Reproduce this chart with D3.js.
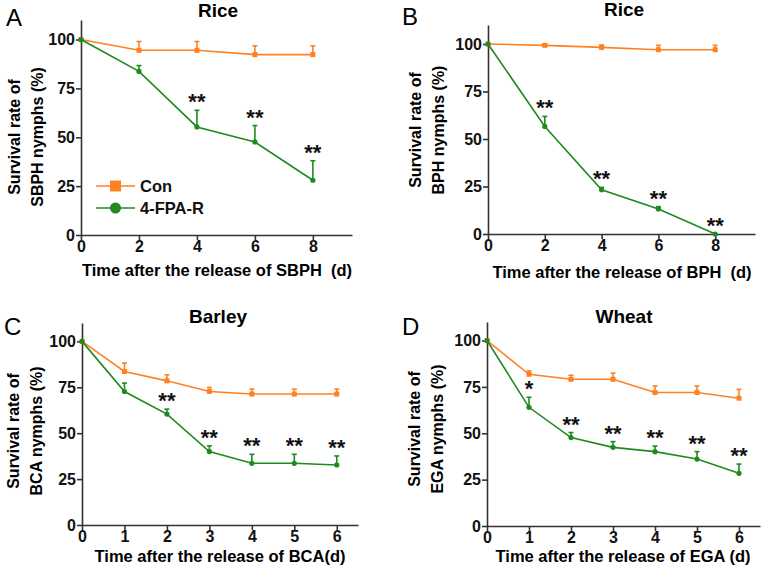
<!DOCTYPE html>
<html>
<head>
<meta charset="utf-8">
<script src="https://d3js.org/d3.v7.min.js"></script>
<style>
  body { margin: 0; background: white; }
  svg text { font-family: "Liberation Sans", Arial, sans-serif; }
</style>
</head>
<body>
<svg width="762" height="567"></svg>
<script>
// days
const daysAB = [0, 2, 4, 6, 8];
const daysCD = [0, 1, 2, 3, 4, 5, 6];
const yTicks = [0, 25, 50, 75, 100];

// A: rice, SBPH
const conA = [100, 94.5, 94.5, 92.3, 92.3];
const conA_sd = [0, 4.5, 4.5, 4.5, 4.5];
const fpaA = [100, 83.7, 55.3, 47.6, 28];
const fpaA_sd = [0, 3, 8.5, 8.4, 10];
const sigA = ["", "", "**", "**", "**"];

// B: rice, BPH
const conB = [100, 99.3, 98.2, 97, 97];
const conB_sd = [0, 0.6, 1.3, 2.3, 2.3];
const fpaB = [100, 56.6, 23.3, 13.2, 0];
const fpaB_sd = [0, 5.3, 1.2, 1.2, 0];
const sigB = ["", "**", "**", "**", "**"];

// C: barley, BCA
const conC = [100, 83.6, 78.5, 72.7, 71.3, 71.3, 71.3];
const conC_sd = [0, 4.6, 3.3, 2.2, 2.7, 2.7, 2.7];
const fpaC = [100, 72.7, 60.4, 40, 33.6, 33.6, 32.7];
const fpaC_sd = [0, 4.6, 2.7, 3.1, 4.9, 4.9, 4.9];
const sigC = ["", "", "**", "**", "**", "**", "**"];

// D: wheat, EGA
const conD = [100, 81.8, 79.1, 79.1, 72, 72, 68.9];
const conD_sd = [0, 1.8, 2.2, 3.3, 3.5, 3.5, 4.8];
const fpaD = [100, 64, 47.7, 42.4, 40.1, 36.1, 28.4];
const fpaD_sd = [0, 5.4, 2.7, 3.1, 3.0, 4.0, 5.0];
const sigD = ["", "*", "**", "**", "**", "**", "**"];

const seriesNames = ["Con", "4-FPA-R"];

const orange = "#ff8022";
const green = "#1f8a1f";
const axisCol = "#333";

const svg = d3.select("svg");

function panel(p) {
  var x = d3.scaleLinear().domain([0, p.xmax]).range([p.left, p.right]);
  var y = d3.scaleLinear().domain([0, 110]).range([p.bottom, p.top]);
  var g = svg.append("g");

  // axes
  var ax = g.append("g")
    .attr("transform", "translate(0," + p.bottom + ")")
    .call(d3.axisBottom(x).tickValues(p.days).tickFormat(d3.format("d"))
      .tickSize(5).tickPadding(1).tickSizeOuter(0));
  var ay = g.append("g")
    .attr("transform", "translate(" + p.left + ",0)")
    .call(d3.axisLeft(y).tickValues(yTicks).tickSize(5).tickPadding(1).tickSizeOuter(0));
  [ax, ay].forEach(function(a) {
    a.selectAll("path, line").attr("stroke", axisCol).attr("stroke-width", 1.6);
    a.selectAll("text").attr("font-size", 16).attr("font-weight", "bold").attr("fill", "#111");
  });

  // series
  var series = [
    { v: p.con, sd: p.consd, col: orange, shape: "square" },
    { v: p.fpa, sd: p.fpasd, col: green, shape: "circle" }
  ];
  series.forEach(function(s) {
    var pts = p.days.map(function(d, i) { return { d: d, v: s.v[i], sd: s.sd[i] }; });
    g.append("path").datum(pts)
      .attr("fill", "none").attr("stroke", s.col).attr("stroke-width", 1.6)
      .attr("d", d3.line().x(function(d) { return x(d.d); }).y(function(d) { return y(d.v); }));
    var eb = g.selectAll(null).data(pts.filter(function(d) { return d.sd > 0; })).enter().append("g")
      .attr("stroke", s.col).attr("stroke-width", 1.6);
    eb.append("line")
      .attr("x1", function(d) { return x(d.d); }).attr("x2", function(d) { return x(d.d); })
      .attr("y1", function(d) { return y(d.v); }).attr("y2", function(d) { return y(d.v + d.sd); });
    eb.append("line")
      .attr("x1", function(d) { return x(d.d) - 2.5; }).attr("x2", function(d) { return x(d.d) + 2.5; })
      .attr("y1", function(d) { return y(d.v + d.sd); }).attr("y2", function(d) { return y(d.v + d.sd); });
    if (s.shape == "square") {
      g.selectAll(null).data(pts).enter().append("rect")
        .attr("x", function(d) { return x(d.d) - 2.5; })
        .attr("y", function(d) { return y(d.v) - 2.5; })
        .attr("width", 5).attr("height", 5).attr("fill", s.col);
    } else {
      g.selectAll(null).data(pts).enter().append("circle")
        .attr("cx", function(d) { return x(d.d); })
        .attr("cy", function(d) { return y(d.v); })
        .attr("r", 2.6).attr("fill", s.col);
    }
  });

  // significance stars
  var fpaPts = p.days.map(function(d, i) { return { d: d, top: p.fpa[i] + p.fpasd[i], s: p.sig[i] }; });
  g.selectAll(null).data(fpaPts.filter(function(d) { return d.s != ""; })).enter().append("text")
    .attr("x", function(d) { return x(d.d); })
    .attr("y", function(d) { return y(d.top) - 1; })
    .attr("text-anchor", "middle").attr("font-size", 22).attr("font-weight", "bold")
    .attr("fill", "#111")
    .text(function(d) { return d.s; });

  // titles
  g.append("text").attr("x", p.titleX).attr("y", p.titleY)
    .attr("text-anchor", "middle").attr("font-size", 19).attr("font-weight", "bold")
    .text(p.title);
  g.append("text").attr("x", p.letterX).attr("y", p.letterY)
    .attr("font-size", 24).text(p.letter);
  g.append("text").attr("x", p.xlabX).attr("y", p.xlabY)
    .attr("text-anchor", "middle").attr("font-size", 16.5).attr("font-weight", "bold")
    .attr("xml:space", "preserve")
    .text(p.xlab);
  p.ylab.forEach(function(t, i) {
    g.append("text")
      .attr("transform", "translate(" + p.ylabX[i] + "," + p.ylabY + ") rotate(-90)")
      .attr("text-anchor", "middle").attr("font-size", 16).attr("font-weight", "bold")
      .text(t);
  });
  return g;
}

const gA = panel({ left: 81, right: 352, top: 20, bottom: 235, xmax: 9.35, days: daysAB,
  con: conA, consd: conA_sd, fpa: fpaA, fpasd: fpaA_sd, sig: sigA,
  title: "Rice", titleX: 218, titleY: 17, letter: "A", letterX: 6, letterY: 26,
  xlab: "Time after the release of SBPH  (d)", xlabX: 217, xlabY: 276,
  ylab: ["Survival rate of", "SBPH nymphs (%)"], ylabX: [20, 43], ylabY: 137 });

panel({ left: 488, right: 755, top: 25, bottom: 234, xmax: 9.4, days: daysAB,
  con: conB, consd: conB_sd, fpa: fpaB, fpasd: fpaB_sd, sig: sigB,
  title: "Rice", titleX: 624, titleY: 16, letter: "B", letterX: 402, letterY: 25,
  xlab: "Time after the release of BPH  (d)", xlabX: 622, xlabY: 278,
  ylab: ["Survival rate of", "BPH nymphs (%)"], ylabX: [421, 444], ylabY: 130 });

panel({ left: 82, right: 358, top: 323, bottom: 525, xmax: 6.5, days: daysCD,
  con: conC, consd: conC_sd, fpa: fpaC, fpasd: fpaC_sd, sig: sigC,
  title: "Barley", titleX: 218, titleY: 323, letter: "C", letterX: 4, letterY: 335,
  xlab: "Time after the release of BCA(d)", xlabX: 220, xlabY: 562,
  ylab: ["Survival rate of", "BCA nymphs (%)"], ylabX: [19, 42], ylabY: 431 });

panel({ left: 487, right: 760, top: 322, bottom: 526, xmax: 6.5, days: daysCD,
  con: conD, consd: conD_sd, fpa: fpaD, fpasd: fpaD_sd, sig: sigD,
  title: "Wheat", titleX: 624, titleY: 323, letter: "D", letterX: 402, letterY: 335,
  xlab: "Time after the release of EGA (d)", xlabX: 623, xlabY: 562,
  ylab: ["Survival rate of", "EGA nymphs (%)"], ylabX: [420, 443], ylabY: 429 });

// legend in panel A
const legend = gA.append("g").selectAll("g").data(seriesNames).enter().append("g")
  .attr("transform", function(d, i) { return "translate(96," + (186 + i * 22) + ")"; });
legend.append("line").attr("x1", 0).attr("x2", 39).attr("y1", 0).attr("y2", 0)
  .attr("stroke", function(d, i) { return i == 0 ? orange : green; }).attr("stroke-width", 1.6);
legend.filter(function(d, i) { return i == 0; }).append("rect")
  .attr("x", 14).attr("y", -5.5).attr("width", 11).attr("height", 11).attr("fill", orange);
legend.filter(function(d, i) { return i == 1; }).append("circle")
  .attr("cx", 19.5).attr("cy", 0).attr("r", 5.5).attr("fill", green);
legend.append("text").attr("x", 44).attr("y", 6)
  .attr("font-size", 16.5).attr("font-weight", "bold").attr("fill", "#111")
  .text(function(d) { return d; });
</script>
</body>
</html>
